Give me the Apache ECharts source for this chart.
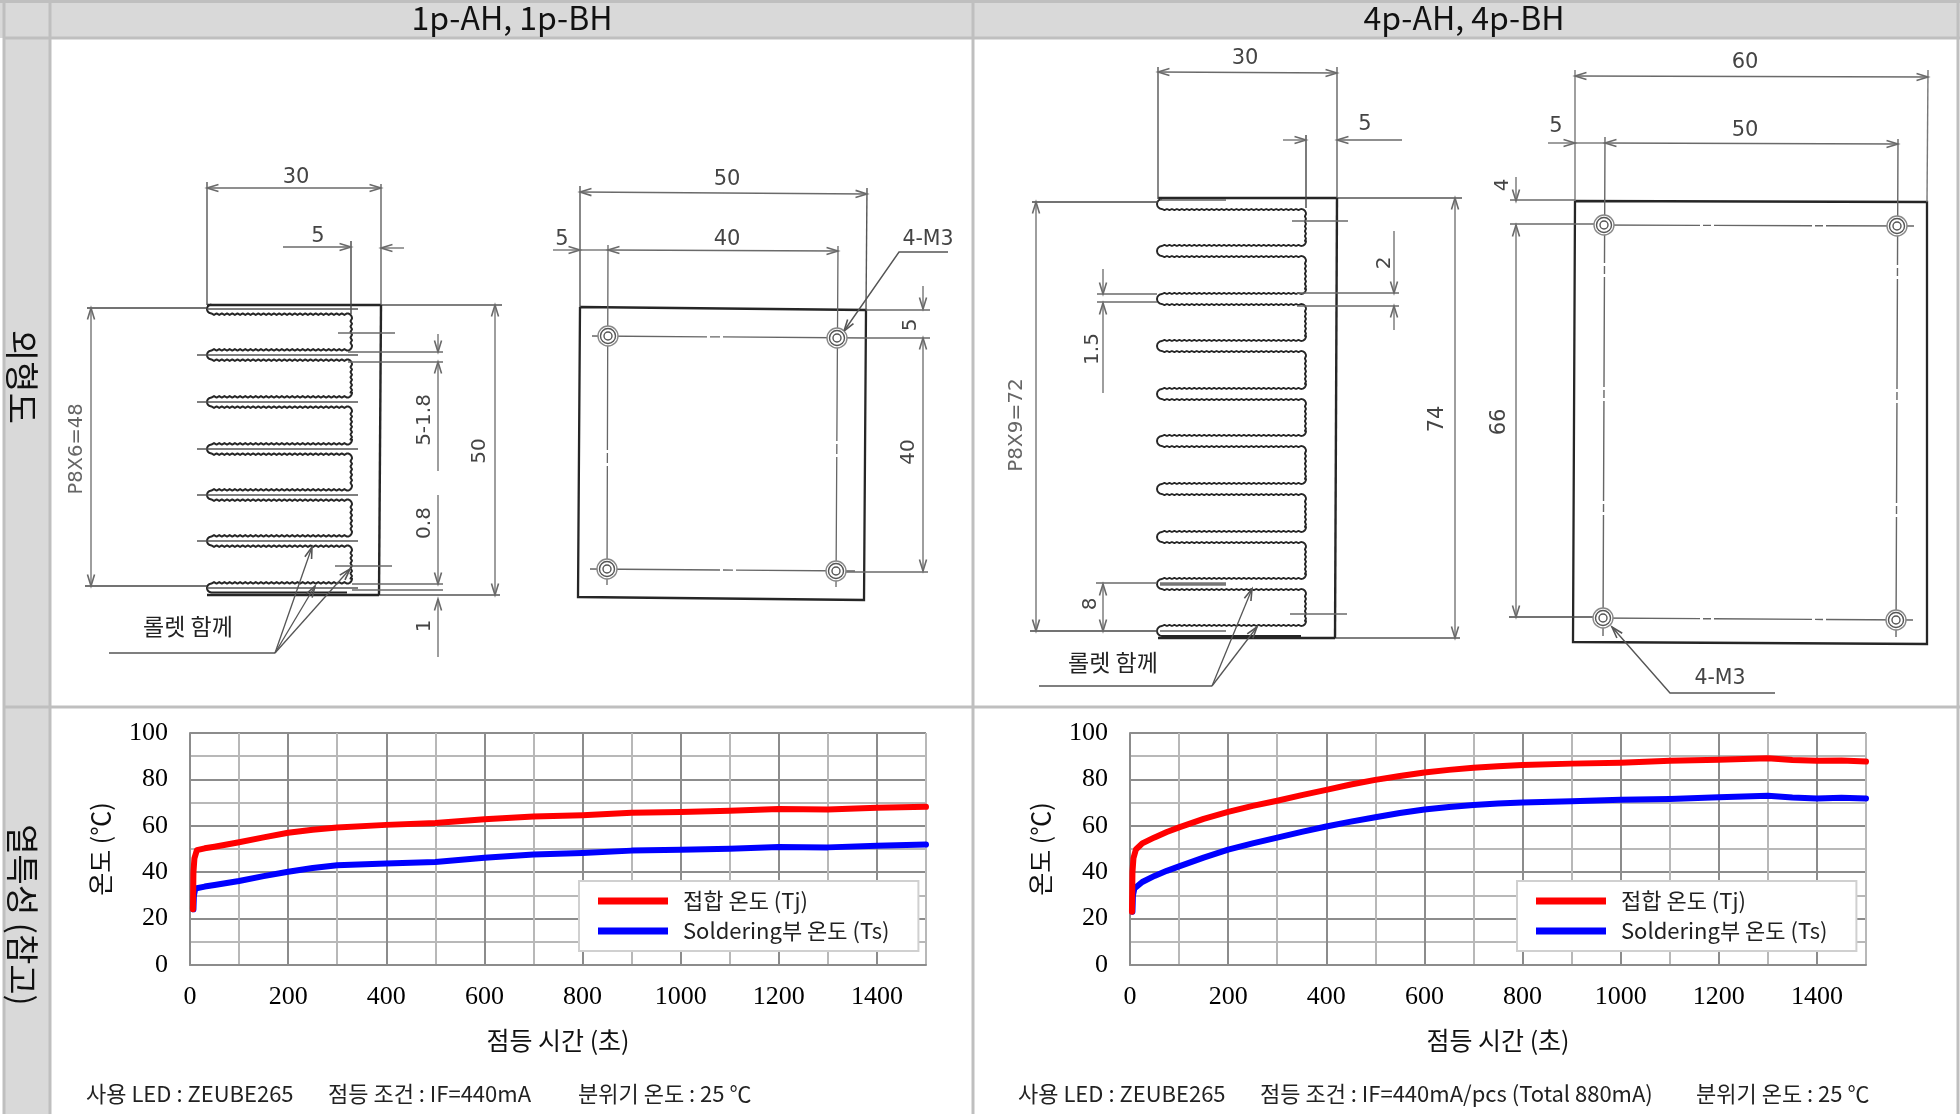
<!DOCTYPE html>
<html><head><meta charset="utf-8">
<style>html,body{margin:0;padding:0;background:#fff}#c{width:1960px;height:1114px}</style>
<script src="https://cdn.jsdelivr.net/npm/echarts@6/dist/echarts.min.js"></script>
</head><body><div id="c"></div>
<script>
// ---------- chart data ----------
const timeA_Tj = [6,7,9,14,30,50,100,150,200,250,300,400,500,600,700,800,900,1000,1100,1200,1300,1400,1500];
const tempA_Tj = [24,40,46,49.5,50.3,51,52.9,55,57,58.3,59.3,60.4,61.2,62.8,64,64.6,65.6,66,66.5,67.2,67,67.8,68.2];
const timeA_Ts = [7,8,11,30,50,100,150,200,250,300,400,500,600,700,800,900,1000,1100,1200,1300,1400,1500];
const tempA_Ts = [24,30,33,33.8,34.5,36.2,38.3,40.2,41.8,43,43.8,44.4,46.2,47.6,48.3,49.3,49.7,50.1,50.9,50.7,51.4,51.9];
const timeB_Tj = [4,5,7,12,25,50,75,100,150,200,250,300,350,400,450,500,550,600,650,700,750,800,900,1000,1100,1200,1300,1350,1400,1450,1500];
const tempB_Tj = [23,40,46,49.8,52.4,55,57.3,59.3,63,66,68.6,70.8,73.2,75.5,77.8,79.8,81.5,83,84.1,85,85.7,86.2,86.8,87.2,88,88.5,89.1,88.4,88,88.1,87.7];
const timeB_Ts = [5,6,9,25,50,75,100,150,200,250,300,350,400,450,500,550,600,650,700,750,800,900,1000,1100,1200,1300,1350,1400,1450,1500];
const tempB_Ts = [23,30,33,35.8,38.4,40.6,42.5,46.3,49.7,52.4,54.9,57.4,59.7,61.8,63.7,65.5,67,68.1,69,69.6,70,70.6,71.2,71.6,72.3,73,72.2,71.8,72.1,71.8];
const xTickLabels = [0,200,400,600,800,1000,1200,1400];
const yTickLabels = [0,20,40,60,80,100];
const seriesNames = ['접합 온도 (Tj)','Soldering부 온도 (Ts)'];
const colHeaders = ['1p-AH, 1p-BH','4p-AH, 4p-BH'];
const rowHeaders = ['외형도','열특성 (참고)'];
const xName = '점등 시간 (초)';
const yName = '온도 (℃)';
const notesA = ['사용 LED : ZEUBE265','점등 조건 : IF=440mA','분위기 온도 : 25 ℃'];
const notesB = ['사용 LED : ZEUBE265','점등 조건 : IF=440mA/pcs (Total 880mA)','분위기 온도 : 25 ℃'];
const zip = (a,b)=>a.map((v,i)=>[v,b[i]]);

// ---------- drawing helpers (technical drawings and table frame) ----------
const KR='"Noto Sans CJK KR"', DV='"DejaVu Sans"';
const G=[];
const INK='#262626', DIM='#6a6a6a', TXT='#444';
function L(x1,y1,x2,y2,w,c,dash){G.push({type:'line',shape:{x1,y1,x2,y2},style:{stroke:c||DIM,lineWidth:w||1.3,lineDash:dash||null},silent:true,z:5});}
function head(x,y,fromX,fromY,c){const a=Math.atan2(fromY-y,fromX-x),s=12,d=0.3;
  G.push({type:'polyline',shape:{points:[[x+s*Math.cos(a+d),y+s*Math.sin(a+d)],[x,y],[x+s*Math.cos(a-d),y+s*Math.sin(a-d)]]},style:{stroke:c||DIM,fill:null,lineWidth:1.6},silent:true,z:5});}
function dim(x1,y1,x2,y2,a1,a2){L(x1,y1,x2,y2);if(a1)head(x1,y1,x2,y2);if(a2)head(x2,y2,x1,y1);}
function T(x,y,s,size,rot,c,fam,align){
  if(!fam){ if(rot) x+=2.5; else y+=2.5; }
  G.push({type:'text',x,y,rotation:(rot||0)*Math.PI/180,style:{text:s,fontSize:size,fontFamily:fam||DV,fill:c||TXT,align:align||'center',verticalAlign:'middle'},silent:true,z:6});}
function R(x,y,w,h,f){G.push({type:'rect',shape:{x,y,width:w,height:h},style:{fill:f},silent:true,z:1});}
function hole(x,y){[10,7.5,4].forEach((r,i)=>G.push({type:'circle',shape:{cx:x,cy:y,r},style:{fill:i==0?'#fff':null,stroke:i==0?'#888':'#555',lineWidth:1.4},silent:true,z:7}));}
function serr(pts,x1,y1,x2,y2,amp,pitch){const len=Math.hypot(x2-x1,y2-y1),n=Math.max(2,Math.round(len/pitch)),ux=(x2-x1)/len,uy=(y2-y1)/len;
  for(let i=0;i<=n;i++){const t=i/n,o=(i%2?amp:0);pts.push([x1+(x2-x1)*t+(-uy)*o,y1+(y2-y1)*t+ux*o]);}}
function arc(pts,cx,cy,r,a0,a1){const n=8;for(let i=0;i<=n;i++){const a=a0+(a1-a0)*i/n;pts.push([cx+r*Math.cos(a),cy+r*Math.sin(a)]);}}
function fins(xL,xR,ys,h,r,amp,pitch,w){const p=[],P=Math.PI;
  ys.forEach((y,i)=>{
    arc(p,xL+h,y,h,-P/2,-3*P/2);
    if(i<ys.length-1){
      serr(p,xL+h,y+h,xR-r,y+h,amp,pitch);
      arc(p,xR-r,y+h+r,r,-P/2,0);
      serr(p,xR,y+h+r,xR,ys[i+1]-h-r,amp,pitch);
      arc(p,xR-r,ys[i+1]-h-r,r,0,P/2);
      serr(p,xR-r,ys[i+1]-h,xL+h,ys[i+1]-h,amp,pitch);
    }else{p.push([xR-r,y+h]);}
  });
  G.push({type:'polyline',shape:{points:p},style:{stroke:INK,fill:null,lineWidth:w,lineJoin:'round'},silent:true,z:5});
}

// table frame
const B='#bfbfbf', H='#d9d9d9';
R(0,0,1960,38,H); R(4,38,46,1076,H);
R(50,38,923,669,'#fff');
[[4,0,4,1114],[50,0,50,1114],[973,0,973,1114],[1958,0,1958,1114],[0,1.5,1960,1.5],[4,38,1960,38],[4,707,1960,707]].forEach(a=>{G.push({type:'line',shape:{x1:a[0],y1:a[1],x2:a[2],y2:a[3]},style:{stroke:B,lineWidth:3},silent:true,z:2});});
T(512,18,colHeaders[0],32,0,'#111',KR);
T(1464,18,colHeaders[1],32,0,'#111',KR);
T(22,377,rowHeaders[0],34,-90,'#111',KR);
T(23,915,rowHeaders[1],33,-90,'#111',KR);

// left fin drawing
const finA=[309,355,402,449,495,541,588];
fins(207,352,finA,4.4,5,1.5,2.6,2);
L(207,305,381,305,2.4,INK); L(381,305,502,305,1.4,'#555');
L(207,595,379,595,2.4,INK); L(379,595,500,595,1.4,'#555');
L(381,184,381,305,1.3,'#555'); L(381,305,379,595,2.4,INK);
L(207,182,207,305,1.4,'#555'); L(351,241,351,314,1.4,'#444');
dim(207,188,381,188,true,true); T(296,175,'30',21);
dim(283,247,351,247,false,true); dim(404,248,381,248,false,true); T(318,234,'5',21);
L(87,308,207,308,1.5,'#444'); L(85,586,207,586,1.5,'#444');
dim(91,308,91,586,true,true); T(74,449,'P8X6=48',19.5,90,'#666');
dim(495,305,495,595,true,true); T(477,451,'50',20,90);
dim(438,334,438,352,false,true); dim(438,471,438,362,false,true); T(422,420,'5-1.8',20,90);
dim(438,495,438,584,false,true); T(422,523,'0.8',20,90);
dim(438,657,438,599,false,true); T(422,626,'1',20,90);
L(348,352,443,352); L(348,362,443,362); L(352,584,443,584); L(352,590,443,590);
L(338,333,395,333); L(335,566,392,566);
finA.forEach((y,i)=>{ L((i==0||i==6)?207:197,y,358,y,1.6,'#555'); });
L(109,653,275,653,1.5,'#555');
[[312,547],[315,586],[350,569]].forEach(p=>{L(275,653,p[0],p[1],1.3,'#555');head(p[0],p[1],275,653,'#555');});
T(188,626,'롤렛 함께',23,0,'#222',KR);

// left plate
G.push({type:'polyline',shape:{points:[[580,307],[866,310],[864,600],[578,597],[580,307]]},style:{stroke:INK,fill:null,lineWidth:2.3},silent:true,z:5});
L(580,186,580,307,1.4,'#555'); L(867,188,866,310,1.4,'#555');
dim(580,192,867,194,true,true); T(727,177,'50',21);
dim(608,250,838,251,true,true); T(727,237,'40',21);
dim(553,250,580,250,false,true); L(580,250,608,250); T(562,237,'5',21);
L(608,245,607,585,1.3,'#666',[205,3,10,3,500]); L(838,246,836,587,1.3,'#666',[195,3,10,3,500]);
L(592,336,866,338,1.3,'#666',[115,3,10,3,500]); L(590,569,855,571,1.3,'#666',[130,3,10,3,500]);
L(866,310,930,310); L(866,338,930,338); L(845,572,928,572);
dim(923,286,923,309,false,true); dim(923,338,923,571,true,true);
T(908,325,'5',20,90); T(906,452,'40',20,90);
[[608,336],[837,338],[607,569],[836,571]].forEach(p=>hole(p[0],p[1]));
G.push({type:'polyline',shape:{points:[[948,252],[899,252],[844,331]]},style:{stroke:'#555',fill:null,lineWidth:1.4},silent:true,z:8});
head(844,331,899,252,'#555');
T(928,237,'4-M3',20.5);

// right fin drawing
const finB=[204,251,299,346,394,441,489,537,584,631];
fins(1157,1306,finB,5,5,1.1,2.5,1.9);
L(1158,198,1337,198,2.4,INK); L(1337,198,1462,198,1.4,'#555');
L(1158,638,1335,638,2.4,INK); L(1335,638,1460,638,1.4,'#555');
L(1337,67,1337,198,1.3,'#555'); L(1337,198,1335,638,2.4,INK);
L(1158,67,1158,199,1.4,'#555'); L(1306,135,1306,208,1.4,'#444');
dim(1158,72,1337,73,true,true); T(1245,56,'30',21);
dim(1283,140,1306,140,false,true); dim(1402,140,1337,140,false,true); T(1365,122,'5',21);
L(1032,202,1158,202,1.5,'#444'); L(1030,631,1158,631,1.5,'#444');
L(1160,200,1226,200,1.3,'#666'); L(1160,631,1226,631,1.3,'#666'); L(1160,584,1226,584,3.5,'#777');
dim(1036,202,1036,631,true,true); T(1014,425,'P8X9=72',20,90,'#666');
dim(1455,198,1455,638,true,true); T(1435,419,'74',21,90);
dim(1394,231,1394,293,false,true); dim(1394,330,1394,306,false,true);
L(1297,293,1399,293); L(1297,306,1399,306); T(1382,263,'2',20,90);
dim(1103,269,1103,294,false,true); dim(1103,393,1103,303,false,true);
L(1097,294,1157,294); L(1097,302,1157,302); T(1090,349,'1.5',20,90);
L(1096,583,1157,583); dim(1103,584,1103,631,true,true); T(1088,604,'8',20,90);
L(1292,221,1348,221); L(1290,614,1347,614);
L(1039,686,1212,686,1.5,'#555');
[[1252,589],[1257,627]].forEach(p=>{L(1212,686,p[0],p[1],1.3,'#555');head(p[0],p[1],1212,686,'#555');});
T(1113,662,'롤렛 함께',23,0,'#222',KR);

// right plate
G.push({type:'polyline',shape:{points:[[1575,201],[1927,202],[1927,644],[1573,642],[1575,201]]},style:{stroke:INK,fill:null,lineWidth:2.3},silent:true,z:5});
L(1575,70,1575,201,1.4,'#777'); L(1928,70,1927,202,1.4,'#777');
dim(1575,76,1928,77,true,true); T(1745,60,'60',21);
dim(1605,143,1898,144,true,true); T(1745,128,'50',21);
dim(1548,143,1575,143,false,true); L(1575,143,1605,143); T(1556,124,'5',21);
const dd=[106,3,8,3,98,3,8,3,900];
L(1594,225,1914,226,1.4,'#666',dd); L(1594,618,1913,620,1.4,'#666',dd);
const dv=[126,3,8,3,110,3,8,3,100,3,8,3,300];
L(1605,137,1603,636,1.4,'#666',dv); L(1898,139,1896,637,1.4,'#666',dv);
L(1510,200,1575,200); L(1510,224,1594,224); L(1509,617,1594,617,1.5,'#444');
dim(1516,177,1516,201,false,true); dim(1516,225,1516,617,true,true);
T(1500,185,'4',20,90); T(1497,422,'66',21,90);
[[1604,225],[1897,226],[1603,618],[1896,620]].forEach(p=>hole(p[0],p[1]));
G.push({type:'polyline',shape:{points:[[1775,693],[1670,693],[1612,627]]},style:{stroke:'#555',fill:null,lineWidth:1.4},silent:true,z:8});
head(1612,627,1670,693,'#555');
T(1720,676,'4-M3',20.5);

// notes
[86,328,578].forEach((x,i)=>T(x,1094,notesA[i],22,0,'#222',KR,'left'));
[1018,1260,1696].forEach((x,i)=>T(x,1094,notesB[i],22,0,'#222',KR,'left'));

// ---------- chart ----------
const DARK='#8c8c8c', LIGHT='#b8b8b8';
function xAxis(i){return {gridIndex:i,type:'value',min:0,max:1500,interval:100,name:xName,nameLocation:'middle',nameGap:63,
  nameTextStyle:{fontFamily:KR,fontSize:25,color:'#111'},
  axisLine:{show:true,onZero:false,lineStyle:{color:DARK,width:2}},axisTick:{show:false},
  axisLabel:{margin:19,fontFamily:'"Liberation Serif"',fontSize:26,color:'#000',formatter:v=>xTickLabels.includes(v)?String(v):''},
  splitLine:{show:true,lineStyle:{color:[DARK,LIGHT],width:2}}};}
function yAxis(i){return {gridIndex:i,type:'value',min:0,max:100,interval:10,name:yName,nameLocation:'middle',nameGap:77,
  nameTextStyle:{fontFamily:KR,fontSize:25,color:'#111'},
  axisLine:{show:true,lineStyle:{color:DARK,width:2}},axisTick:{show:false},
  axisLabel:{margin:22,fontFamily:'"Liberation Serif"',fontSize:26,color:'#000',formatter:v=>yTickLabels.includes(v)?String(v):''},
  splitLine:{show:true,lineStyle:{color:[DARK,LIGHT],width:2}}};}
function line(name,i,data,color,z){return {name,type:'line',xAxisIndex:i,yAxisIndex:i,data,symbol:'none',clip:false,z,
  lineStyle:{color,width:6,cap:'round',join:'round'},itemStyle:{color}};}
function legend(left){return {left,top:881,orient:'vertical',data:seriesNames,icon:'rect',itemWidth:70,itemHeight:7,itemGap:8,
  padding:[9,29,9,19],backgroundColor:'#fff',borderColor:'#d0d0d0',borderWidth:2,selectedMode:false,
  textStyle:{fontFamily:KR,fontSize:22,color:'#222',padding:[0,0,0,10]},z:10};}
const chart=echarts.init(document.getElementById('c'),null,{renderer:'canvas'});
chart.setOption({
  animation:false,backgroundColor:'#fff',
  grid:[{left:190,top:733,width:736,height:232},{left:1130,top:733,width:736,height:232}],
  xAxis:[xAxis(0),xAxis(1)],yAxis:[yAxis(0),yAxis(1)],
  legend:[legend(579),legend(1517)],
  series:[
    line(seriesNames[0],0,zip(timeA_Tj,tempA_Tj),'#ff0000',4),
    line(seriesNames[1],0,zip(timeA_Ts,tempA_Ts),'#0000ff',3),
    line(seriesNames[0],1,zip(timeB_Tj,tempB_Tj),'#ff0000',4),
    line(seriesNames[1],1,zip(timeB_Ts,tempB_Ts),'#0000ff',3)
  ],
  graphic:{elements:G}
});
</script></body></html>
